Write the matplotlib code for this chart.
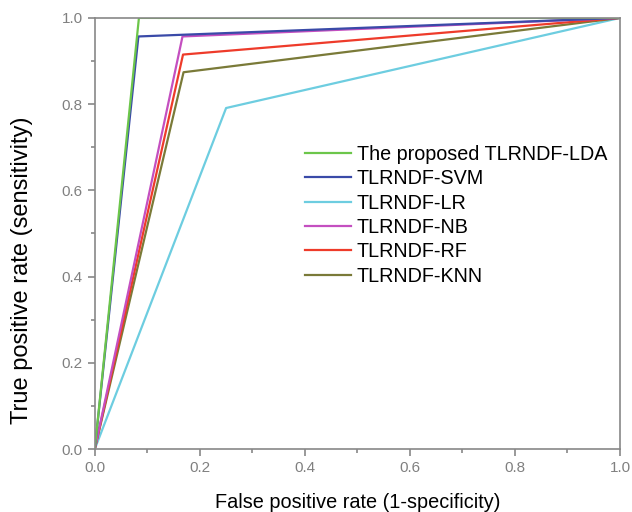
import numpy as np
import matplotlib.pyplot as plt
from matplotlib.ticker import MultipleLocator

plt.rcParams['font.family'] = ['Liberation Sans', 'DejaVu Sans']

# ROC points (FPR, TPR) for each model
labels = ["The proposed TLRNDF-LDA", "TLRNDF-SVM", "TLRNDF-LR",
          "TLRNDF-NB", "TLRNDF-RF", "TLRNDF-KNN"]
fpr = [[0, 0.084, 1], [0, 0.083, 1], [0, 0.25, 1],
       [0, 0.167, 1], [0, 0.168, 1], [0, 0.169, 1]]
tpr = [[0, 1.0, 1], [0, 0.957, 1], [0, 0.791, 1],
       [0, 0.957, 1], [0, 0.915, 1], [0, 0.874, 1]]
colors = ["#6cc64a", "#3a4aa8", "#6dcde0", "#c44fc0", "#ee3b2a", "#7a7a38"]

fig = plt.figure(figsize=(6.32, 5.12), dpi=100)
ax = fig.add_axes([0.150, 0.123, 0.831, 0.842])

# draw back to front so LDA sits on top
for i in [2, 5, 4, 3, 1, 0]:
    ax.plot(fpr[i], tpr[i], color=colors[i], lw=1.6, label=labels[i])

ax.set_xlim(0, 1)
ax.set_ylim(0, 1)
ax.xaxis.set_major_locator(MultipleLocator(0.2))
ax.yaxis.set_major_locator(MultipleLocator(0.2))
ax.xaxis.set_minor_locator(MultipleLocator(0.1))
ax.yaxis.set_minor_locator(MultipleLocator(0.1))
ax.xaxis.set_major_formatter(plt.FormatStrFormatter('%.1f'))
ax.yaxis.set_major_formatter(plt.FormatStrFormatter('%.1f'))

for s in ax.spines.values():
    s.set_color("#888888")
    s.set_linewidth(1.2)
ax.tick_params(which='both', direction='out', colors="#888888", width=1.2)
ax.tick_params(which='major', length=5, labelsize=11, labelcolor="#808080")
ax.tick_params(which='minor', length=3)

ax.set_xlabel("False positive rate (1-specificity)", fontsize=14.3, labelpad=13)
ax.set_ylabel("True positive rate (sensitivity)", fontsize=17)
ax.yaxis.set_label_coords(-0.118, 0.415)

handles, labs = ax.get_legend_handles_labels()
order = [labs.index(l) for l in labels]
ax.legend([handles[k] for k in order], labels, loc='upper left',
          bbox_to_anchor=(0.382, 0.728), frameon=False, fontsize=14.2,
          borderpad=0, handlelength=2.3, handletextpad=0.3, labelspacing=0.27)

fig.savefig("out.png", dpi=100)
plt.close(fig)
